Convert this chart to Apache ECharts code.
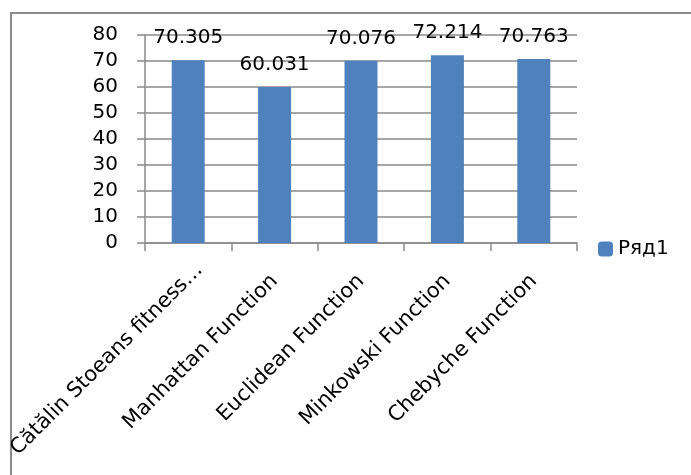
<!DOCTYPE html>
<html>
<head>
<meta charset="utf-8">
<script src="https://cdn.jsdelivr.net/npm/echarts@6/dist/echarts.min.js"></script>
<style>
html,body{margin:0;padding:0;background:#fff;}
#main{width:691px;height:475px;}
</style>
</head>
<body>
<div id="main"></div>
<script>
/*类别与数值*/
var categories=['Cătălin Stoeans fitness…','Manhattan Function','Euclidean Function','Minkowski Function','Chebyche Function'];
var values=[70.305,60.031,70.076,72.214,70.763];
var valueLabels=['70.305','60.031','70.076','72.214','70.763'];
var seriesName='Ряд1';
var yTicks=[0,10,20,30,40,50,60,70,80];

var font='"DejaVu Sans",sans-serif';
/*第一个标签在原图中略靠右上*/
var catData=categories.map(function(c,i){
	return i==0 ? {value:c,textStyle:{padding:[0,-16,0,0]}} : c;
});
var chart=echarts.init(document.getElementById('main'));
var option={
	animation:false,
	backgroundColor:'#fff',
	textStyle:{fontFamily:font},
	graphic:[{
		type:'rect',
		shape:{x:11,y:13,width:700,height:480},
		style:{fill:'none',stroke:'#8a8a8a',lineWidth:2}
	}],
	legend:{
		data:[seriesName],
		left:593,top:234,
		itemWidth:15,itemHeight:15,itemGap:6,
		textStyle:{fontSize:20,color:'#000',fontFamily:font}
	},
	grid:{left:145,right:114,top:35,bottom:232,outerBoundsMode:'none',containLabel:false},
	xAxis:{
		type:'category',
		data:catData,
		axisLine:{lineStyle:{color:'#8a8a8a',width:1.5}},
		axisTick:{show:true,length:8,lineStyle:{color:'#8a8a8a',width:1.5}},
		axisLabel:{rotate:45,fontSize:21,color:'#000',margin:35,interval:0,fontFamily:font}
	},
	yAxis:{
		type:'value',
		min:yTicks[0],max:yTicks[yTicks.length-1],interval:10,
		axisLine:{show:true,lineStyle:{color:'#8a8a8a',width:1.5}},
		axisTick:{show:true,length:8,lineStyle:{color:'#8a8a8a',width:1.5}},
		splitLine:{lineStyle:{color:'#8a8a8a',width:1.5}},
		axisLabel:{fontSize:20,color:'#000',margin:27,fontFamily:font}
	},
	series:[{
		name:seriesName,
		type:'bar',
		data:values,
		barWidth:33,
		itemStyle:{color:'#4f81bd'},
		label:{
			show:true,position:'top',distance:12,
			fontSize:20,color:'#000',fontFamily:font,
			formatter:function(p){return valueLabels[p.dataIndex];}
		}
	}]
};
chart.setOption(option);
</script>
</body>
</html>
